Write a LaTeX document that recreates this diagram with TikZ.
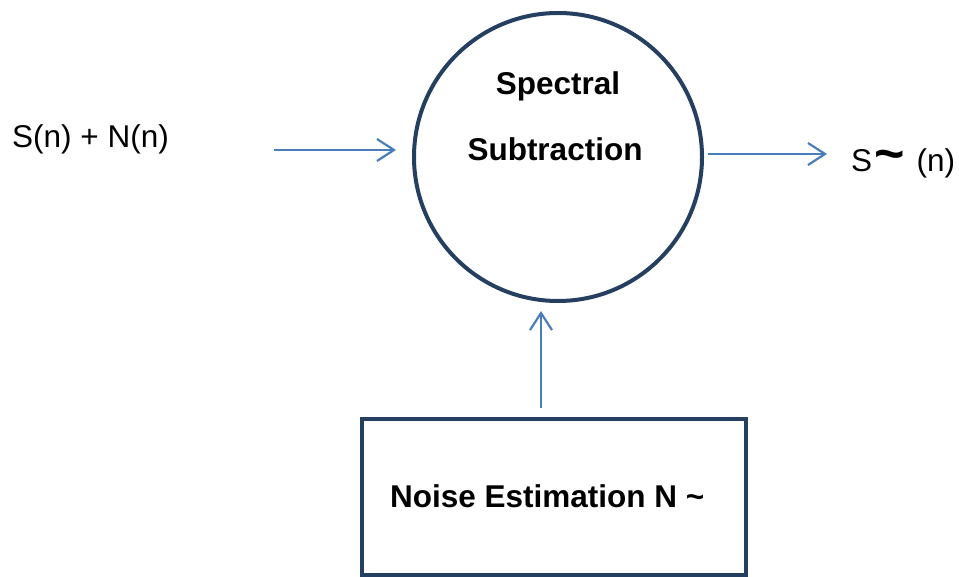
\documentclass[tikz,border=0pt]{standalone}
\usepackage{fontspec}
\setmainfont{Liberation Sans}
\usetikzlibrary{arrows.meta}
\definecolor{boxnavy}{HTML}{243F60}
\definecolor{arrowblue}{HTML}{4A7EBB}
\tikzset{
  shapeline/.style={draw=boxnavy, line width=4pt},
  conn/.style={draw=arrowblue, line width=2.2pt, -{Straight Barb[length=17pt,width=22pt,line width=2.2pt]}},
  txt/.style={inner sep=0pt, font=\fontsize{31.5}{37}\selectfont},
  btxt/.style={inner sep=0pt, font=\fontsize{31.5}{37}\selectfont\bfseries},
}
\begin{document}
\begin{tikzpicture}[x=1pt,y=-1pt]
\useasboundingbox (0,0) rectangle (959,577);
% shapes
\node[shapeline, circle, minimum size=288pt, inner sep=0pt] (ss) at (558,157) {};
\node[shapeline, rectangle, minimum width=384pt, minimum height=156pt, inner sep=0pt] (ne) at (554,497) {};
% texts
\node[btxt, anchor=base] (ssA) at (558,95) {Spectral};
\node[btxt, anchor=base] (ssB) at (555,161) {Subtraction};
\node[btxt, anchor=base west] (neT) at (390,507) {Noise Estimation N \textasciitilde};
\node[txt, anchor=base west] (in) at (12,148) {S(n) + N(n)};
\node[txt, anchor=base west] (out) at (851,172) {S\hspace{2pt}{\fontsize{52}{56}\selectfont\bfseries\textasciitilde}\hspace{12pt}(n)};
% connector end points
\coordinate (inA) at (274,150);
\coordinate (inB) at (396,150);
\coordinate (outA) at (708,154);
\coordinate (outB) at (827,154);
\coordinate (upA) at (541,408);
\coordinate (upB) at (541,311);
\draw[conn] (inA) -- (inB);
\draw[conn] (outA) -- (outB);
\draw[conn] (upA) -- (upB);
\end{tikzpicture}
\end{document}
